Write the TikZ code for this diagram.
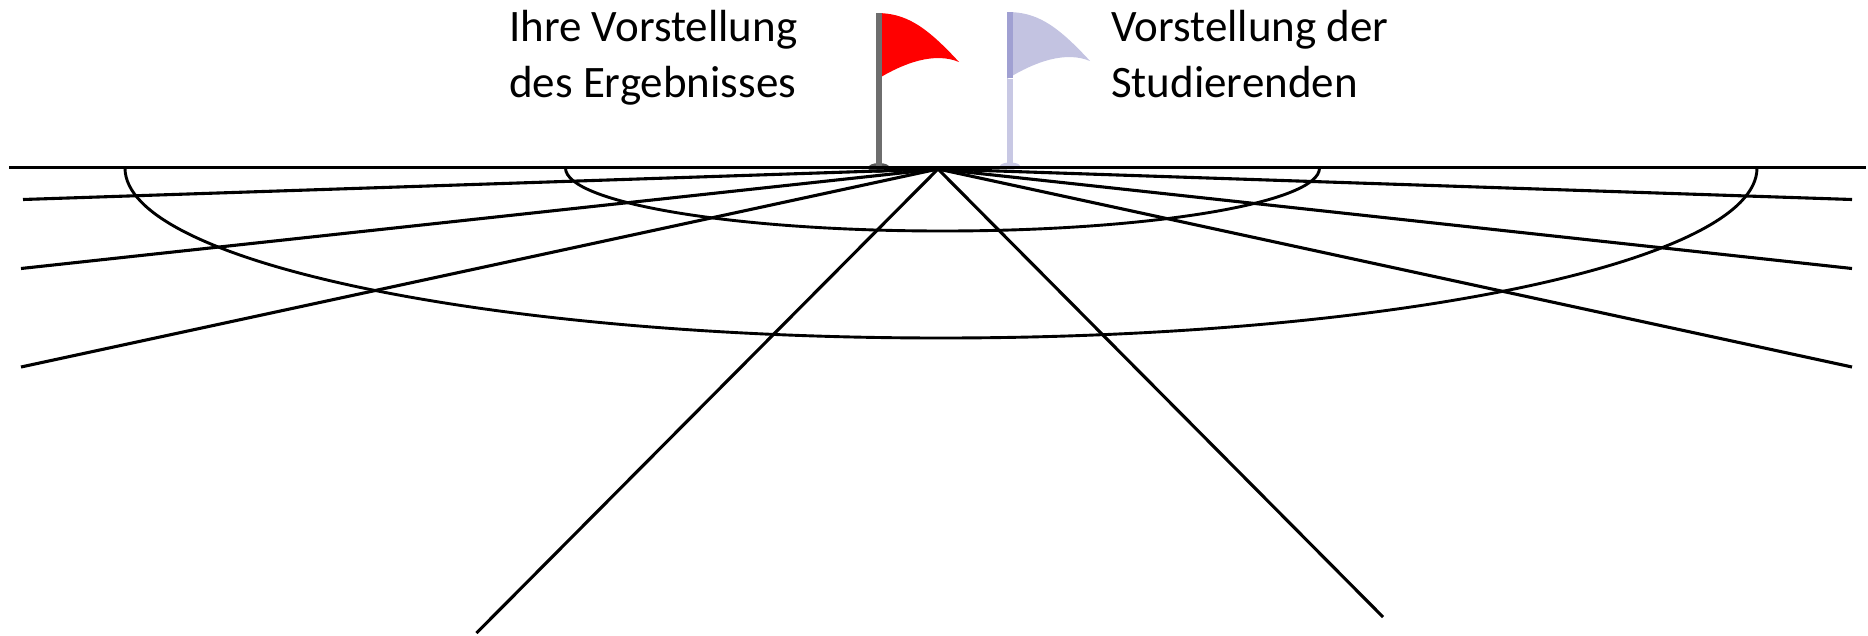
\documentclass[tikz,border=0pt]{standalone}
\usepackage{fontspec}
\setmainfont{Carlito}
\definecolor{flagblue}{HTML}{C3C3E1}
\definecolor{poleblue}{HTML}{A0A0D2}
\definecolor{polelight}{HTML}{C8C8E4}
\definecolor{polegray}{HTML}{6E6E6E}
\tikzset{
  ray/.style={draw=black,line width=3.1pt},
  bowl/.style={draw=black,line width=2.9pt},
  lab/.style={anchor=base west,inner sep=0pt,font=\fontsize{45}{55}\selectfont,text=black},
}
\begin{document}
\begin{tikzpicture}[x=1pt,y=-1pt]
\useasboundingbox (0,0) rectangle (1868,635);
% flags
\fill[polegray!80!black] (879,168) ellipse [x radius=11,y radius=5];
\fill[red] (876,13) .. controls (905,13) and (925,25) .. (959,62) .. controls (935,52) and (905,62) .. (876,80) -- cycle;
\fill[polegray] (876,13) rectangle (882,169);
\fill[polelight] (1007,79) rectangle (1013,168);
\fill[polelight] (1010,166) ellipse [x radius=10,y radius=3.5];
\fill[flagblue] (1007,12) .. controls (1036,12) and (1056,24) .. (1090,61) .. controls (1066,51) and (1036,61) .. (1007,79) -- cycle;
\fill[poleblue] (1007,12) rectangle (1013,78);
% labels
\node[lab] (you1) at (509,41) {Ihre Vorstellung};
\node[lab] (you2) at (509,97) {des Ergebnisses};
\node[lab] (st1) at (1111,41) {Vorstellung der};
\node[lab] (st2) at (1111,97) {Studierenden};
% geometry
\coordinate (apex) at (938,169);
\coordinate (hl) at (9,167.5);
\coordinate (hr) at (1866,167.5);
\coordinate (l1) at (23,199.5);
\coordinate (r1) at (1852,199.5);
\coordinate (l2) at (21,268.5);
\coordinate (r2) at (1852,268.5);
\coordinate (l3) at (21,367);
\coordinate (r3) at (1852,367);
\coordinate (bl) at (476.5,633);
\coordinate (br) at (1383,617);
\draw[ray] (hl) -- (hr);
\foreach \e in {l1,r1,l2,r2,l3,r3,bl,br}{\draw[ray] (apex) -- (\e);}
\draw[bowl] (125,168) arc [start angle=180,end angle=360,x radius=816,y radius=-170];
\draw[bowl] (565.5,168) arc [start angle=180,end angle=360,x radius=377,y radius=-63];
\end{tikzpicture}
\end{document}
